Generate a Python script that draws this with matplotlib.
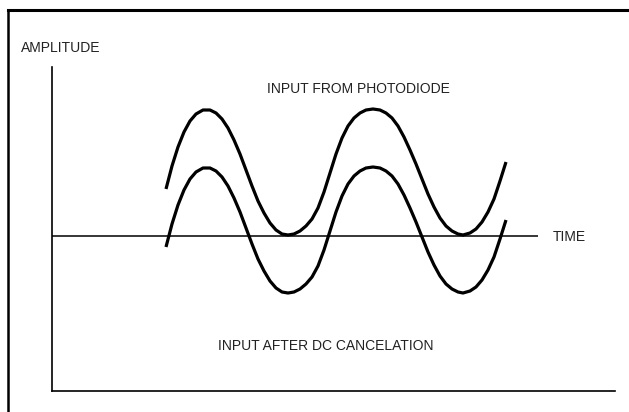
import matplotlib
matplotlib.use('Agg')
import matplotlib.pyplot as plt
from matplotlib.lines import Line2D

plt.rcParams['font.family'] = ['Liberation Sans', 'DejaVu Sans']

# time axis (arbitrary units)
time = [166, 172, 178, 184, 190, 196, 203, 210, 216, 222, 228, 234, 240, 246,
        252, 258, 264, 270, 276, 282, 288, 294, 300, 306, 312, 318, 324, 330,
        336, 342, 348, 354, 360, 366, 373, 380, 386, 392, 398, 404, 410, 416,
        422, 428, 434, 440, 446, 452, 458, 463, 470, 476, 482, 488, 494, 500, 506]

# signal straight from the photodiode (sits on a DC level)
photodiode = [47, 70, 89, 104, 115, 122, 126, 126, 123, 117, 108, 96, 82, 66,
              50, 35, 23, 13, 6, 2, 1, 2, 5, 10, 17, 28, 44, 63,
              82, 98, 110, 118, 123, 126, 127, 126, 123, 118, 110, 99, 86, 72,
              57, 42, 29, 18, 10, 5, 2, 1, 3, 7, 14, 24, 37, 55, 74]

# same signal with the DC part removed
dc_cancelled = [-11, 12, 31, 46, 57, 64, 68, 68, 65, 59, 50, 38, 24, 8,
                -8, -23, -35, -45, -52, -56, -57, -56, -53, -48, -41, -30, -14, 5,
                24, 40, 52, 60, 65, 68, 69, 68, 65, 60, 52, 41, 28, 14,
                -1, -16, -29, -40, -48, -53, -56, -57, -55, -51, -44, -34, -21, -3, 16]

W, H = 629, 412
fig = plt.figure(figsize=(W / 100, H / 100), dpi=100)

# outer frame: top and left edges only
fig.add_artist(Line2D([8 / W, 1], [1 - 10 / H, 1 - 10 / H], color='black', lw=2.2))
fig.add_artist(Line2D([8 / W, 8 / W], [0, 1 - 10 / H], color='black', lw=1.8))

ax = fig.add_axes([52 / W, 21 / H, (615 - 52) / W, (391 - 67) / H])
ax.set_xlim(52, 615)
ax.set_ylim(-155, 169)
for s in ['top', 'right']:
    ax.spines[s].set_visible(False)
ax.spines['left'].set_linewidth(1.2)
ax.spines['bottom'].set_linewidth(1.2)
ax.set_xticks([])
ax.set_yticks([])

ax.hlines(0, 52, 538, color='black', lw=1.1)
ax.plot(time, photodiode, color='black', lw=2.3, solid_capstyle='butt', solid_joinstyle='round')
ax.plot(time, dc_cancelled, color='black', lw=2.3, solid_capstyle='butt', solid_joinstyle='round')

fs = 10
fig.text(21 / W, 1 - 48 / H, 'AMPLITUDE', fontsize=fs, ha='left', va='center', color='#222222')
fig.text(358 / W, 1 - 89 / H, 'INPUT FROM PHOTODIODE', fontsize=fs, ha='center', va='center', color='#222222')
fig.text(553 / W, 1 - 237 / H, 'TIME', fontsize=fs, ha='left', va='center', color='#222222')
fig.text(326 / W, 1 - 346 / H, 'INPUT AFTER DC CANCELATION', fontsize=fs, ha='center', va='center', color='#222222')

fig.savefig('out.png', dpi=100)
